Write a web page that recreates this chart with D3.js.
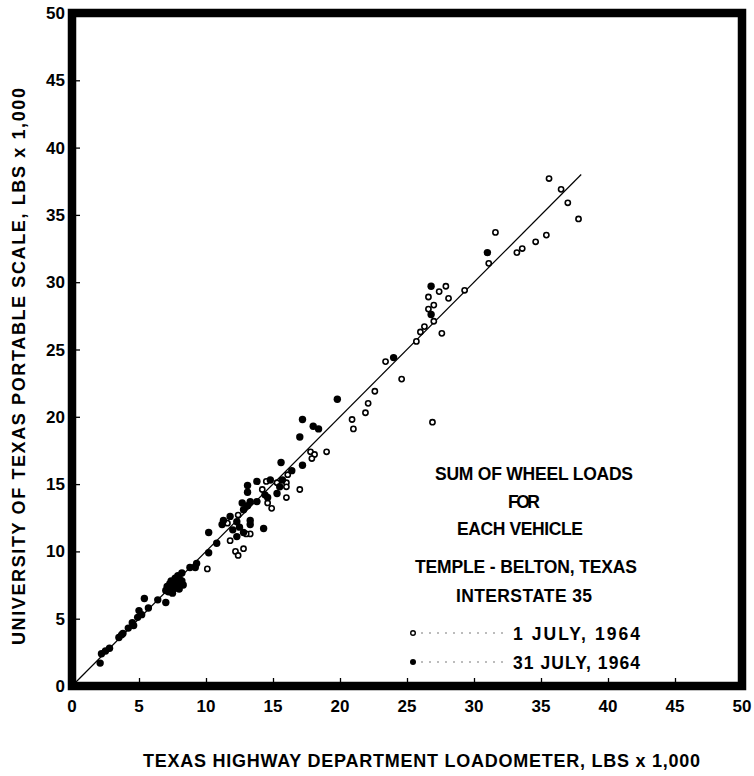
<!DOCTYPE html>
<html>
<head>
<meta charset="utf-8">
<script src="https://cdn.jsdelivr.net/npm/d3@7"></script>
<style>
  html, body { margin: 0; padding: 0; background: #fff; }
  svg { display: block; }
  text { font-family: "Liberation Sans", Arial, sans-serif; font-weight: bold; fill: #000; }
</style>
</head>
<body>
<svg id="chart" width="754" height="776"></svg>
<script>
// Sum of wheel loads per vehicle (thousands of lbs):
// [loadometer reading, portable scale reading]
const july1 = [
  [35.6, 37.7], [36.5, 36.9], [37.0, 35.9], [37.8, 34.7], [31.6, 33.7],
  [31.1, 31.4], [33.2, 32.2], [33.6, 32.5], [34.6, 33.0], [35.4, 33.5],
  [29.3, 29.4], [27.9, 29.7], [27.4, 29.3], [26.6, 28.9], [28.1, 28.8],
  [26.6, 28.0], [27.0, 28.3], [27.0, 27.1], [26.3, 26.7], [26.0, 26.3],
  [25.7, 25.6], [27.6, 26.2], [23.4, 24.1], [24.6, 22.8], [22.6, 21.9],
  [22.1, 21.0], [21.9, 20.3], [20.9, 19.8], [21.0, 19.1], [26.9, 19.6],
  [17.8, 17.4], [18.1, 17.2], [17.9, 16.9], [19.0, 17.4], [16.1, 15.7],
  [14.5, 15.2], [15.3, 15.1], [16.0, 15.1], [16.0, 14.8], [14.2, 14.6],
  [17.0, 14.6], [16.0, 14.0], [14.6, 13.6], [14.9, 13.2], [12.4, 12.7],
  [11.6, 12.1], [13.3, 11.3], [13.0, 11.3], [11.8, 10.8], [12.2, 10.0],
  [12.8, 10.2], [12.4, 9.7], [10.1, 8.7]
];

const july31 = [
  [31.0, 32.2], [26.8, 29.7], [26.8, 27.6], [24.0, 24.4], [19.8, 21.3],
  [17.2, 19.8], [18.0, 19.3], [18.4, 19.1], [17.0, 18.5], [15.6, 16.6],
  [17.2, 16.4], [16.4, 16.0], [13.8, 15.2], [14.8, 15.3], [15.7, 15.3],
  [15.5, 14.8], [13.1, 14.9], [13.1, 14.4], [14.4, 14.2], [15.3, 14.3],
  [14.6, 14.0], [13.8, 13.7], [12.7, 13.6], [13.1, 13.4], [12.8, 13.1],
  [13.3, 13.7], [11.8, 12.6], [11.3, 12.3], [11.2, 12.0], [12.3, 12.2],
  [13.3, 12.3], [13.3, 12.0], [12.5, 11.8], [12.0, 11.6], [12.8, 11.4],
  [14.3, 11.7], [10.2, 11.4], [10.8, 10.6], [12.3, 11.1], [10.2, 9.9],
  [9.3, 9.1], [8.8, 8.8], [9.2, 8.8], [8.2, 8.4],
  [7.2, 7.0], [7.4, 7.3], [7.6, 7.6], [7.8, 7.9], [8.0, 8.0],
  [7.3, 7.6], [7.6, 7.2], [7.9, 7.5], [8.2, 7.8], [7.1, 7.4],
  [7.7, 8.0], [8.3, 7.5], [7.5, 6.9], [8.0, 7.2], [7.9, 8.2],
  [7.4, 7.8], [8.1, 7.7], [7.0, 7.1], [6.4, 6.4],
  [7.0, 6.2], [5.4, 6.5], [5.7, 5.8], [5.0, 5.6], [5.2, 5.3],
  [4.9, 5.1], [4.5, 4.7], [4.6, 4.5], [4.2, 4.3], [3.8, 3.9],
  [3.5, 3.6], [3.7, 3.8], [2.8, 2.8], [2.5, 2.6], [2.2, 2.4],
  [2.1, 1.7]
];

// Line of equality drawn through the data
const equalityLine = [[0, 0], [38, 38]];

const tickValues = [0, 5, 10, 15, 20, 25, 30, 35, 40, 45, 50];
const xTitle = "TEXAS HIGHWAY DEPARTMENT LOADOMETER, LBS x 1,000";
const yTitle = "UNIVERSITY OF TEXAS PORTABLE SCALE, LBS x 1,000";
const noteLines = ["SUM OF WHEEL LOADS", "FOR", "EACH VEHICLE", "TEMPLE - BELTON, TEXAS", "INTERSTATE 35"];
const legendLabels = ["1  JULY, 1964", "31  JULY, 1964"];

const svg = d3.select("#chart");
const x = d3.scaleLinear().domain([0, 50]).range([72, 742]);
const y = d3.scaleLinear().domain([0, 50]).range([686, 13]);

// Inward ticks on the bottom and left edges
const xAxis = d3.axisTop(x).tickValues(tickValues).tickSize(4).tickFormat("");
const yAxis = d3.axisRight(y).tickValues(tickValues).tickSize(4).tickFormat("");
svg.append("g").attr("transform", `translate(0,${y(0) - 4})`).call(xAxis)
  .call(g => g.select(".domain").remove())
  .call(g => g.selectAll("line").attr("stroke", "#000").attr("stroke-width", 1.3));
svg.append("g").attr("transform", `translate(${x(0) + 4},0)`).call(yAxis)
  .call(g => g.select(".domain").remove())
  .call(g => g.selectAll("line").attr("stroke", "#000").attr("stroke-width", 1.3));

// Tick labels
svg.append("g").selectAll("text").data(tickValues).join("text")
  .attr("x", d => x(d)).attr("y", 712)
  .attr("text-anchor", "middle").attr("font-size", 17)
  .text(d => d);
svg.append("g").selectAll("text").data(tickValues).join("text")
  .attr("x", 65).attr("y", d => y(d) + 6)
  .attr("text-anchor", "end").attr("font-size", 17)
  .text(d => d);

// Equality line
svg.append("path")
  .datum(equalityLine)
  .attr("d", d3.line().x(d => x(d[0])).y(d => y(d[1])))
  .attr("stroke", "#000").attr("stroke-width", 1.2).attr("fill", "none");

// 1 July: open circles
svg.append("g").selectAll("circle").data(july1).join("circle")
  .attr("cx", d => x(d[0])).attr("cy", d => y(d[1])).attr("r", 2.6)
  .attr("fill", "#fff").attr("stroke", "#000").attr("stroke-width", 1.6);

// 31 July: filled circles
svg.append("g").selectAll("circle").data(july31).join("circle")
  .attr("cx", d => x(d[0])).attr("cy", d => y(d[1])).attr("r", 3.7)
  .attr("fill", "#000");

// Heavy frame
svg.append("rect")
  .attr("x", x(0)).attr("y", y(50))
  .attr("width", x(50) - x(0)).attr("height", y(0) - y(50))
  .attr("fill", "none").attr("stroke", "#000").attr("stroke-width", 8.5);

// Axis titles (lettered with open spacing)
svg.append("text")
  .attr("x", 143).attr("y", 767)
  .attr("font-size", 18).attr("textLength", 557).attr("lengthAdjust", "spacing")
  .text(xTitle);
svg.append("text")
  .attr("transform", "translate(25,645) rotate(-90)")
  .attr("font-size", 18).attr("textLength", 557).attr("lengthAdjust", "spacing")
  .text(yTitle);

// Annotation block
const notes = [
  { t: noteLines[0], x0: 435, x1: 633, base: 480 },
  { t: noteLines[1], x0: 508, x1: 540, base: 508 },
  { t: noteLines[2], x0: 457, x1: 583, base: 535 },
  { t: noteLines[3], x0: 415, x1: 637, base: 573 },
  { t: noteLines[4], x0: 456, x1: 592, base: 602 }
];
svg.append("g").selectAll("text").data(notes).join("text")
  .attr("x", d => d.x0).attr("y", d => d.base)
  .attr("font-size", 17.5)
  .attr("textLength", d => d.x1 - d.x0).attr("lengthAdjust", "spacing")
  .text(d => d.t);

// Legend
const legendRows = [{ y: 633, open: true, label: legendLabels[0] }, { y: 662, open: false, label: legendLabels[1] }];
const lg = svg.append("g");
legendRows.forEach(row => {
  if (row.open) {
    lg.append("circle").attr("cx", 413).attr("cy", row.y).attr("r", 2.3)
      .attr("fill", "#fff").attr("stroke", "#000").attr("stroke-width", 1.4);
  } else {
    lg.append("circle").attr("cx", 413).attr("cy", row.y).attr("r", 3).attr("fill", "#000");
  }
  lg.append("g").selectAll("circle").data(d3.range(422, 508, 8)).join("circle")
    .attr("cx", d => d).attr("cy", row.y).attr("r", 0.8).attr("fill", "#666");
  lg.append("text").attr("x", 513).attr("y", row.y + 7)
    .attr("font-size", 17.5)
    .attr("textLength", 127).attr("lengthAdjust", "spacing")
    .text(row.label);
});
</script>
</body>
</html>
